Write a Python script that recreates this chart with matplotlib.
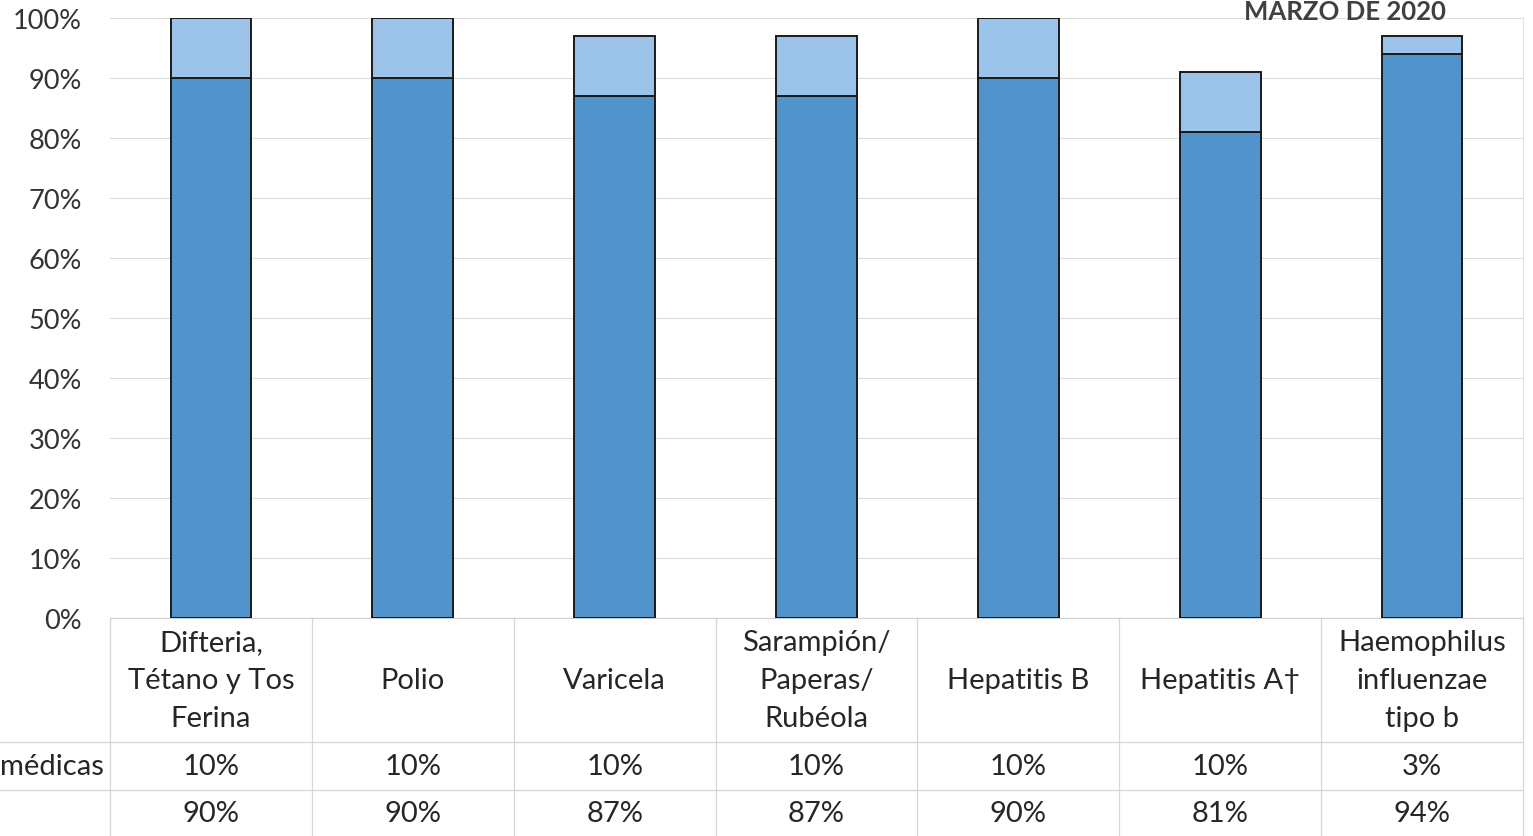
import matplotlib
matplotlib.use('Agg')
import matplotlib.pyplot as plt
from matplotlib.transforms import blended_transform_factory

# datos
categorias = ['Difteria,\nTétano y Tos\nFerina', 'Polio', 'Varicela',
              'Sarampión/\nPaperas/\nRubéola', 'Hepatitis B', 'Hepatitis A†',
              'Haemophilus\ninfluenzae\ntipo b']
exenciones = [10, 10, 10, 10, 10, 10, 3]
vacunados = [90, 90, 87, 87, 90, 81, 94]
fila_etiquetas = ['médicas', '']
titulo = 'MARZO DE 2020'

W, H = 1533, 837
plt.rcParams['font.family'] = ['Lato', 'DejaVu Sans']
fig = plt.figure(figsize=(W / 100, H / 100), dpi=100)

def fx(x):
    return x / W

def fy(y):
    return 1 - y / H

left, right, top, bottom = 110, 1523, 19, 619
ax = fig.add_axes([fx(left), fy(bottom), fx(right - left), fy(top) - fy(bottom)])

oscuro = '#5193cb'
claro = '#9cc4ea'
x = list(range(len(categorias)))
ax.bar(x, vacunados, width=0.4, color=oscuro, edgecolor='#1a1a1a', linewidth=1.4, zorder=3)
ax.bar(x, exenciones, bottom=vacunados, width=0.4, color=claro, edgecolor='#1a1a1a',
       linewidth=1.4, zorder=3)

ax.set_xlim(-0.5, len(categorias) - 0.5)
ax.set_ylim(0, 100)
ax.set_yticks(range(0, 101, 10))
ax.set_yticklabels([f'{v}%' for v in range(0, 101, 10)], fontsize=19.5, color='#333333')
ax.set_xticks([])
ax.tick_params(axis='y', length=0, pad=20)
ax.grid(axis='y', color='#dcdcdc', linewidth=0.8, zorder=0)
for s in ['top', 'left']:
    ax.spines[s].set_visible(False)
ax.spines['bottom'].set_color('#d0d0d0')
ax.spines['right'].set_color('#e4e4e4')

# tabla de datos
tr = blended_transform_factory(ax.transData, fig.transFigure)
gris = '#d6d6d6'
fs = 21
for i in range(len(categorias) + 1):
    ax.plot([i - 0.5, i - 0.5], [fy(bottom), 0], color=gris, lw=0.9,
            transform=tr, clip_on=False)
for yy in [743, 791]:
    fig.add_artist(plt.Line2D([0, fx(right)], [fy(yy), fy(yy)], color=gris, lw=0.9))

for i, cat in enumerate(categorias):
    ax.text(i, fy(681), cat, transform=tr, ha='center', va='center', fontsize=fs,
            color='#262626', linespacing=1.55)
    ax.text(i, fy(767), f'{exenciones[i]}%', transform=tr, ha='center', va='center',
            fontsize=fs, color='#262626')
    ax.text(i, fy(814), f'{vacunados[i]}%', transform=tr, ha='center', va='center',
            fontsize=fs, color='#262626')

fig.text(fx(104), fy(767), fila_etiquetas[0], ha='right', va='center', fontsize=fs,
         color='#262626')

fig.text(fx(1345), fy(0.5), titulo, ha='center', va='top', fontsize=18.5,
         fontweight='bold', color='#404040')

fig.savefig('out.png', dpi=100)
